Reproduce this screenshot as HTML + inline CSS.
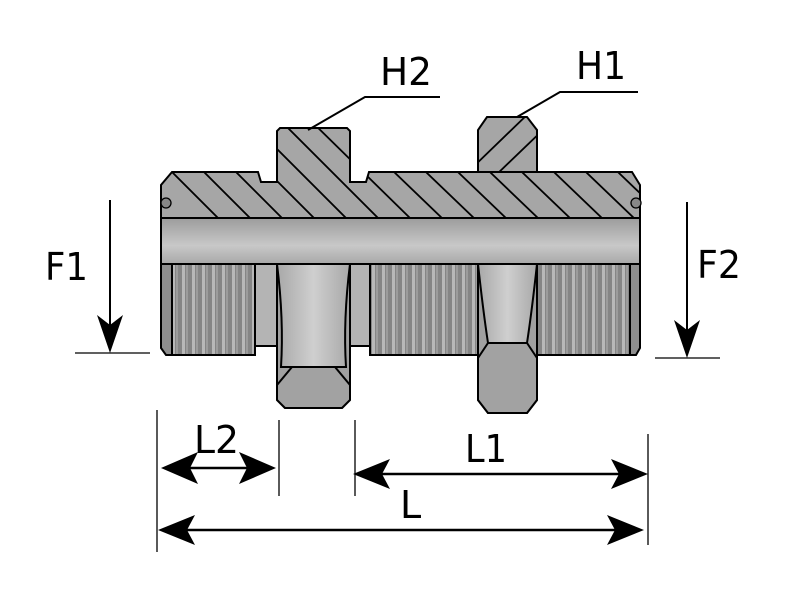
<!DOCTYPE html>
<html><head><meta charset="utf-8"><style>html,body{margin:0;padding:0;background:#fff}svg{display:block}text{font-family:"DejaVu Sans","Liberation Sans",sans-serif;fill:#000}</style></head>
<body>
<svg width="800" height="600" viewBox="0 0 800 600" xmlns="http://www.w3.org/2000/svg">
<defs>
<pattern id="thr" width="10" height="10" patternUnits="userSpaceOnUse">
<rect width="10" height="10" fill="#858585"/><rect x="2" width="3" height="10" fill="#b8b8b8"/><rect x="6" width="2" height="10" fill="#9c9c9c"/>
</pattern>
<linearGradient id="bore" x1="0" y1="0" x2="0" y2="1"><stop offset="0" stop-color="#9c9c9c"/><stop offset="0.6" stop-color="#c8c8c8"/><stop offset="1" stop-color="#a8a8a8"/></linearGradient>
<linearGradient id="nut" x1="0" y1="0" x2="1" y2="0"><stop offset="0" stop-color="#a8a8a8"/><stop offset="0.5" stop-color="#cfcfcf"/><stop offset="1" stop-color="#a8a8a8"/></linearGradient>
<clipPath id="hc"><path d="M172,172 L258,172 L261,182 L277,182 L277,131 L280,128 L347,128 L350,131 L350,182 L366,182 L369,172 L632,172 L640,185 L640,218 L161,218 L161,185 Z"/></clipPath>
<clipPath id="h1c"><path d="M478,172 L478,130 L487,117 L527,117 L537,130 L537,172 Z"/></clipPath>
</defs>
<g stroke="#000" stroke-width="2">
<path d="M172,172 L258,172 L261,182 L277,182 L277,131 L280,128 L347,128 L350,131 L350,182 L366,182 L369,172 L478,172 L478,130 L487,117 L527,117 L537,130 L537,172 L632,172 L640,185 L640,218 L161,218 L161,185 Z" fill="#a6a6a6"/>
<line x1="478" y1="172" x2="537" y2="172"/>
<g clip-path="url(#hc)" stroke-width="1.8">
<line x1="120" y1="120" x2="220" y2="220"/><line x1="152" y1="120" x2="252" y2="220"/><line x1="184" y1="120" x2="284" y2="220"/><line x1="216" y1="120" x2="316" y2="220"/><line x1="248" y1="120" x2="348" y2="220"/><line x1="268" y1="108" x2="380" y2="220"/><line x1="308" y1="118" x2="412" y2="220"/><line x1="340" y1="120" x2="444" y2="220"/><line x1="380" y1="128" x2="476" y2="220"/><line x1="412" y1="128" x2="508" y2="220"/><line x1="444" y1="128" x2="540" y2="220"/><line x1="476" y1="128" x2="572" y2="220"/><line x1="508" y1="128" x2="604" y2="220"/><line x1="540" y1="128" x2="636" y2="220"/><line x1="572" y1="128" x2="668" y2="220"/><line x1="604" y1="128" x2="700" y2="220"/><line x1="636" y1="160" x2="700" y2="220"/>
</g>
<g clip-path="url(#h1c)" stroke-width="1.8">
<line x1="472" y1="168" x2="530" y2="112"/><line x1="495" y1="176" x2="545" y2="128"/>
</g>
<circle cx="166" cy="203" r="5" fill="#888" stroke-width="1.3"/><circle cx="636" cy="203" r="5" fill="#888" stroke-width="1.3"/>
<rect x="161" y="218" width="479" height="46" fill="url(#bore)"/>
<path d="M161,264 L172,264 L172,355 L166,355 L161,348 Z" fill="#8e8e8e"/>
<rect x="172" y="264" width="83" height="91" fill="url(#thr)"/>
<rect x="255" y="264" width="22" height="82" fill="#b4b4b4"/>
<rect x="350" y="264" width="20" height="82" fill="#b4b4b4"/>
<rect x="370" y="264" width="108" height="91" fill="url(#thr)"/>
<rect x="537" y="264" width="93" height="91" fill="url(#thr)"/>
<path d="M630,264 L640,264 L640,348 L636,355 L630,355 Z" fill="#8e8e8e"/>
<path d="M277,264 L350,264 L350,400 L342,408 L285,408 L277,400 Z" fill="#a0a0a0"/>
<path d="M277,264 L350,264 Q343,320 346,367 L281,367 Q284,320 277,264 Z" fill="url(#nut)"/>
<path d="M292,367 L335,367 L350,385 L350,400 L342,408 L285,408 L277,400 L277,385 Z" fill="#a2a2a2"/>
<path d="M478,264 L537,264 L537,400 L527,413 L488,413 L478,400 Z" fill="#a0a0a0"/>
<path d="M478,264 L537,264 Q532,310 527,343 L488,343 Q483,310 478,264 Z" fill="url(#nut)"/>
<path d="M488,343 L527,343 L537,358 L537,400 L527,413 L488,413 L478,400 L478,358 Z" fill="#a2a2a2"/>
<line x1="161" y1="264" x2="640" y2="264"/>
</g>
<g stroke="#000" stroke-width="2" fill="none">
<line x1="110" y1="200" x2="110" y2="330"/><line x1="75" y1="353" x2="150" y2="353" stroke-width="1.3"/>
<line x1="687" y1="202" x2="687" y2="335"/><line x1="655" y1="358" x2="720" y2="358" stroke-width="1.3"/>
<g stroke-width="1.3"><line x1="157" y1="410" x2="157" y2="552"/><line x1="279" y1="420" x2="279" y2="496"/><line x1="355" y1="420" x2="355" y2="496"/><line x1="648" y1="434" x2="648" y2="545"/></g>
<line x1="180" y1="468" x2="256" y2="468" stroke-width="2.5"/>
<line x1="375" y1="474" x2="628" y2="474" stroke-width="2.5"/>
<line x1="180" y1="530" x2="622" y2="530" stroke-width="2.5"/>
<polyline points="308,130 365,97 440,97"/><polyline points="517,117 560,92 638,92"/>
</g>
<g fill="#000">
<polygon points="110,353 97,315 110,325 123,315"/>
<polygon points="687,358 674,320 687,330 700,320"/>
<polygon points="161,468 198,452 190,468 198,484"/><polygon points="276,468 239,452 247,468 239,484"/>
<polygon points="353,474 390,459 382,474 390,489"/><polygon points="648,474 611,459 619,474 611,489"/>
<polygon points="158,530 195,515 187,530 195,545"/><polygon points="644,530 607,515 615,530 607,545"/>
</g>
<g font-size="38">
<text x="45" y="280" textLength="43" lengthAdjust="spacingAndGlyphs">F1</text><text x="697" y="278" textLength="44" lengthAdjust="spacingAndGlyphs">F2</text>
<text x="380" y="85" textLength="52" lengthAdjust="spacingAndGlyphs">H2</text><text x="576" y="79" textLength="50" lengthAdjust="spacingAndGlyphs">H1</text>
<text x="194" y="453" textLength="45" lengthAdjust="spacingAndGlyphs">L2</text><text x="465" y="462" textLength="42" lengthAdjust="spacingAndGlyphs">L1</text><text x="400" y="518">L</text>
</g>
</svg>
</body></html>
